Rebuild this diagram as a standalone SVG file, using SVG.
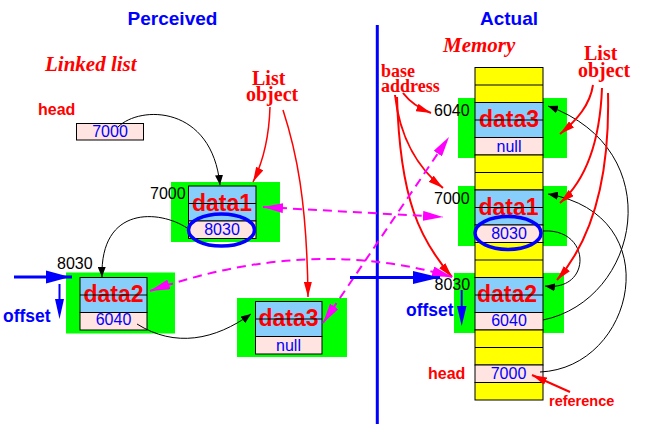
<svg xmlns="http://www.w3.org/2000/svg" width="661" height="435" viewBox="0 0 661 435">
<defs>
<style>
.grn{fill:#00ff00;stroke:none}
.blu{fill:#87cefa;stroke:#000;stroke-width:1}
.pnk{fill:#ffe4e1;stroke:#000;stroke-width:1}
.yel{fill:#ffff00;stroke:#000;stroke-width:1}
.sep{stroke:#000;stroke-width:1}
.dat{font-family:"Liberation Sans",Arial,sans-serif;font-weight:bold;font-size:23px;fill:#ff0000;text-anchor:middle}
.val{font-family:"Liberation Sans",Arial,sans-serif;font-size:16px;fill:#0000ff;text-anchor:middle}
.adr{font-family:"Liberation Sans",Arial,sans-serif;font-size:16px;fill:#000}
.ttl{font-family:"Liberation Sans",Arial,sans-serif;font-weight:bold;font-size:19px;fill:#0000ff;text-anchor:middle}
.ital{font-family:"Liberation Serif","Times New Roman",serif;font-weight:bold;font-style:italic;font-size:21px;fill:#ff0000}
.serif{font-family:"Liberation Serif","Times New Roman",serif;font-weight:bold;font-size:20px;fill:#ff0000}
.lbl{font-family:"Liberation Sans",Arial,sans-serif;font-weight:bold;font-size:16px;fill:#ff0000}
.off{font-family:"Liberation Sans",Arial,sans-serif;font-weight:bold;font-size:17.5px;fill:#0000ff}
.ring{fill:none;stroke:#0000ff;stroke-width:3.5}
.blk{fill:none;stroke:#000;stroke-width:1}
.red{fill:none;stroke:#ff0000;stroke-width:1.5}
.red2{fill:none;stroke:#ff0000;stroke-width:2}
.mag{fill:none;stroke:#ff00ff;stroke-width:2;stroke-dasharray:9,6}
</style>
<marker id="ak" markerUnits="userSpaceOnUse" markerWidth="10" markerHeight="8" refX="10" refY="4" orient="auto"><path d="M0,0 L10,4 L0,8 z" fill="#000"/></marker>
<marker id="ar" markerUnits="userSpaceOnUse" markerWidth="15" markerHeight="8" refX="15" refY="4" orient="auto"><path d="M0,0 L15,4 L0,8 z" fill="#ff0000"/></marker>
<marker id="am" markerUnits="userSpaceOnUse" markerWidth="20" markerHeight="10" refX="20" refY="5" orient="auto-start-reverse"><path d="M0,0 L20,5 L0,10 z" fill="#ff00ff"/></marker>
</defs>
<rect width="661" height="435" fill="#fff"/>

<g id="titles">
<text class="ttl" x="172.5" y="25">Perceived</text>
<text class="ttl" x="509" y="25">Actual</text>
<text class="ital" x="45" y="71">Linked list</text>
<text class="ital" x="443" y="52">Memory</text>
<text class="serif" x="252" y="84.5">List</text>
<text class="serif" x="246" y="101">object</text>
<text class="serif" x="584" y="60">List</text>
<text class="serif" x="578" y="77">object</text>
<text class="serif" x="381" y="77" style="font-size:18px">base</text>
<text class="serif" x="381" y="92" style="font-size:18px">address</text>
<text class="lbl" x="38" y="115">head</text>
<text class="lbl" x="428" y="378.5">head</text>
<text class="lbl" x="549" y="405.5" style="font-size:14.5px">reference</text>
</g>

<g id="divider">
<line x1="377.3" y1="25" x2="377.3" y2="424" stroke="#0000ff" stroke-width="3"/>
</g>

<g id="p-head">
<rect class="pnk" x="76.5" y="123.5" width="67" height="16.5"/>
<text class="val" x="110" y="136.5">7000</text>
</g>

<g id="p-data1">
<rect class="grn" x="171" y="182" width="109" height="60"/>
<rect class="blu" x="188.5" y="186" width="67.5" height="35"/>
<rect class="pnk" x="188.5" y="221" width="67.5" height="17.5"/>
<text class="dat" x="222" y="210.7">data1</text>
<line class="sep" x1="188.5" y1="203.5" x2="256" y2="203.5"/>
<text class="val" x="222" y="234.5">8030</text>
<ellipse class="ring" cx="221.5" cy="230" rx="33" ry="16"/>
<text class="adr" x="150" y="198.5">7000</text>
</g>

<g id="p-data2">
<rect class="grn" x="66" y="272.5" width="109" height="61"/>
<rect class="blu" x="80" y="277.5" width="67" height="35"/>
<rect class="pnk" x="80" y="312.5" width="67" height="17.5"/>
<text class="dat" x="113.5" y="301.7">data2</text>
<line class="sep" x1="80" y1="295" x2="147" y2="295"/>
<text class="val" x="113.5" y="325.3">6040</text>
<text class="adr" x="57" y="269">8030</text>
</g>

<g id="p-data3">
<rect class="grn" x="237" y="298" width="110" height="59"/>
<rect class="blu" x="255.5" y="301.5" width="66.5" height="35"/>
<rect class="pnk" x="255.5" y="336.5" width="66.5" height="17.5"/>
<text class="dat" x="288.5" y="325.7">data3</text>
<line class="sep" x1="255.5" y1="319" x2="322" y2="319"/>
<text class="val" x="288.5" y="351">null</text>
</g>

<g id="memory">
<rect class="grn" x="458" y="98" width="109" height="60"/>
<rect class="grn" x="458" y="186" width="109" height="60"/>
<rect class="grn" x="454" y="273" width="110" height="60"/>
<rect class="yel" x="475" y="67.5" width="68" height="35"/>
<line class="sep" x1="475" y1="85" x2="543" y2="85"/>
<rect class="blu" x="475" y="102.5" width="68" height="35"/>
<rect class="pnk" x="475" y="137.5" width="68" height="17.5"/>
<rect class="yel" x="475" y="155" width="68" height="35"/>
<line class="sep" x1="475" y1="172.5" x2="543" y2="172.5"/>
<rect class="blu" x="475" y="190" width="68" height="35"/>
<rect class="pnk" x="475" y="225" width="68" height="17.5"/>
<rect class="yel" x="475" y="242.5" width="68" height="35"/>
<line class="sep" x1="475" y1="260" x2="543" y2="260"/>
<rect class="blu" x="475" y="277.5" width="68" height="35"/>
<rect class="pnk" x="475" y="312.5" width="68" height="17.5"/>
<rect class="yel" x="475" y="330" width="68" height="35"/>
<line class="sep" x1="475" y1="347.5" x2="543" y2="347.5"/>
<rect class="pnk" x="475" y="365" width="68" height="17.5"/>
<rect class="yel" x="475" y="382.5" width="68" height="17.5"/>
</g>

<g id="m-data3">
<text class="dat" x="509" y="127.3">data3</text>
<line class="sep" x1="475" y1="120" x2="543" y2="120"/>
<text class="val" x="509" y="151.5">null</text>
<text class="adr" x="434" y="116">6040</text>
</g>
<g id="m-data1">
<text class="dat" x="508.5" y="214.5">data1</text>
<line class="sep" x1="475" y1="207.5" x2="543" y2="207.5"/>
<text class="val" x="509" y="238.5">8030</text>
<ellipse class="ring" cx="508" cy="233" rx="33" ry="16.5"/>
<text class="adr" x="434" y="203.5">7000</text>
</g>
<g id="m-data2">
<text class="dat" x="507" y="302">data2</text>
<line class="sep" x1="475" y1="295" x2="543" y2="295"/>
<text class="val" x="509" y="325.5">6040</text>
<text class="adr" x="434.5" y="290">8030</text>
</g>
<g id="m-head">
<text class="val" x="508.5" y="378.5">7000</text>
</g>

<g id="connectors">
<path class="blk" d="M118,127 C140,105 212,105 220,185" marker-end="url(#ak)"/>
<path class="blk" d="M187,228 C160,210 100,205 102,277" marker-end="url(#ak)"/>
<path class="blk" d="M137,324 C175,348 215,340 251,314" marker-end="url(#ak)"/>
<path class="blk" d="M543,231 C592,228 592,292 545,286" marker-end="url(#ak)"/>
<path class="blk" d="M543,320 C640,300 670,150 548,106" marker-end="url(#ak)"/>
<path class="blk" d="M540,372 C635,368 670,215 548,194" marker-end="url(#ak)"/>

<path class="red" d="M270,107 C269,140 263,162 253,182" marker-end="url(#ar)"/>
<path class="red" d="M283,110 C296,150 307,200 308,297" marker-end="url(#ar)"/>
<path class="red2" d="M593,85 C590,105 577,120 560,134" marker-end="url(#ar)"/>
<path class="red2" d="M602,88 C600,140 586,180 560,203" marker-end="url(#ar)"/>
<path class="red2" d="M608,93 C610,180 592,240 557,280" marker-end="url(#ar)"/>
<path class="red2" d="M403,93 Q413,106 431,113" marker-end="url(#ar)"/>
<path class="red2" d="M395,95 C400,140 420,170 443,188" marker-end="url(#ar)"/>
<path class="red2" d="M397,97 C400,200 420,240 452,277" marker-end="url(#ar)"/>
<path class="red2" d="M570,392 L532,375" marker-end="url(#ar)"/>

<path class="mag" d="M263,207 L443,217" marker-start="url(#am)" marker-end="url(#am)"/>
<path class="mag" d="M150,291 Q310,235 452,277" marker-start="url(#am)" marker-end="url(#am)"/>
<path class="mag" d="M323,323 L449,137" marker-start="url(#am)" marker-end="url(#am)"/>

<line x1="14" y1="277" x2="72" y2="277" stroke="#0000ff" stroke-width="3"/>
<polygon points="46,270.5 70,277 46,283.5" fill="#0000ff"/>
<line x1="59.5" y1="284" x2="59.5" y2="305" stroke="#0000ff" stroke-width="2"/>
<polygon points="55,299 59.5,319 64,299" fill="#0000ff"/>
<line x1="350" y1="277.5" x2="440" y2="277.5" stroke="#0000ff" stroke-width="3"/>
<polygon points="413,271 440,277.5 413,284" fill="#0000ff"/>
<line x1="461.7" y1="290" x2="461.7" y2="310" stroke="#0000ff" stroke-width="2"/>
<polygon points="457,306 461.7,326 466.5,306" fill="#0000ff"/>
</g>

<g id="offset-labels">
<text class="off" x="3" y="321.7">offset</text>
<text class="off" x="406" y="316">offset</text>
</g>
</svg>
